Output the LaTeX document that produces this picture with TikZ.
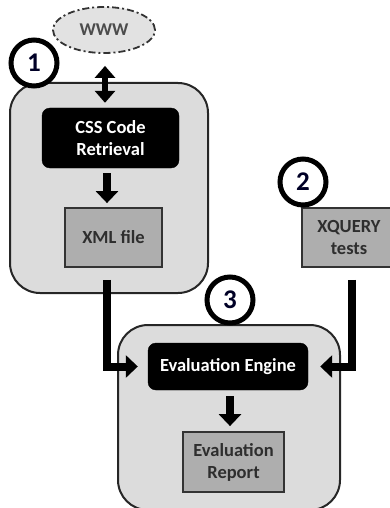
\documentclass[tikz,border=0pt]{standalone}
\usepackage{fontspec}
\setmainfont{Carlito}
\usetikzlibrary{arrows.meta,shapes.geometric,calc}

\definecolor{panel}{HTML}{DCDCDC}
\definecolor{filebox}{HTML}{AEAEAE}
\definecolor{darktext}{HTML}{2E2E2E}
\definecolor{cloud}{HTML}{E2E2E2}

\tikzset{
  panelbox/.style={draw=black!85, line width=2pt, fill=panel, rounded corners=30pt},
  blackbox/.style={draw=black, fill=black, rounded corners=8pt, text=white,
    font=\bfseries\fontsize{18.5}{22}\selectfont, align=center, inner sep=0pt},
  graybox/.style={draw=black!80, line width=1.8pt, fill=filebox, text=darktext,
    font=\bfseries\fontsize{18.5}{22}\selectfont, align=center, inner sep=0pt},
  stepnum/.style={circle, draw=black, line width=5pt, fill=white, minimum size=46pt,
    inner sep=0pt, text=black!85!blue, font=\bfseries\fontsize{27}{27}\selectfont},
  bigarrow/.style={line width=8pt, -{Triangle[width=22pt,length=12pt]}},
  dblarrow/.style={line width=6.5pt, {Triangle[width=20pt,length=12pt]}-{Triangle[width=20pt,length=12pt]}},
}

\begin{document}
\begin{tikzpicture}[x=1pt, y=-1pt]
  \useasboundingbox (0,0) rectangle (389,508);

  % panels
  \node[panelbox, minimum width=198pt, minimum height=210pt] (p1) at (109,188) {};
  \node[panelbox, minimum width=222pt, minimum height=185pt] (p3) at (229,417.5) {};

  % web source
  \node[ellipse, draw=black!80, line width=1.8pt, dash pattern=on 7pt off 3pt on 2pt off 3pt,
    fill=cloud, minimum width=102pt, minimum height=46pt, inner sep=0pt,
    text=black!70, font=\bfseries\fontsize{18}{18}\selectfont] (www) at (104,30) {WWW};

  % stage 1
  \node[blackbox, minimum width=137pt, minimum height=60pt] (css) at (110.5,138) {CSS Code\\Retrieval};
  \node[graybox, minimum width=97pt, minimum height=59pt] (xml) at (113.5,237.5) {XML file};

  % stage 2
  \node[graybox, minimum width=94pt, minimum height=59pt] (xq) at (349,237.5) {XQUERY\\tests};

  % stage 3
  \node[blackbox, minimum width=160pt, minimum height=47pt] (eng) at (228,366.5) {Evaluation Engine};
  \node[graybox, minimum width=101pt, minimum height=60pt] (rep) at (233.5,462) {Evaluation\\Report};

  % step markers
  \node[stepnum] (n1) at (34,63) {1};
  \node[stepnum] (n2) at (303,182) {2};
  \node[stepnum] (n3) at (230,300) {3};

  % connector columns
  \coordinate (c1) at (105,0);
  \coordinate (c2) at (107,0);
  \coordinate (c3) at (230,0);
  \coordinate (c4) at (352,0);

  % connectors
  \draw[dblarrow] ($(www.south -| c1)+(0,12)$) -- ($(css.north -| c1)+(0,-5)$);
  \draw[bigarrow] ($(css.south -| c2)+(0,5)$) -- ($(xml.north -| c2)+(0,-4)$);
  \draw[bigarrow] ($(xml.south -| c2)+(0,12)$) |- ([xshift=-10pt]eng.west);
  \draw[bigarrow] ($(xq.south -| c4)+(0,12)$) |- ([xshift=12pt]eng.east);
  \draw[bigarrow] ($(eng.south -| c3)+(0,6)$) -- ($(rep.north -| c3)+(0,-5)$);
\end{tikzpicture}
\end{document}
